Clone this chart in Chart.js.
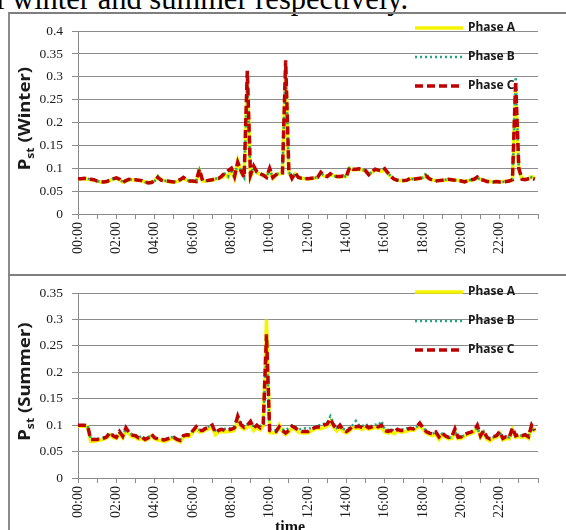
<!DOCTYPE html>
<html lang="en">
<head>
<meta charset="UTF-8">
<title>Pst winter and summer</title>
<script src="https://cdn.jsdelivr.net/npm/chart.js"></script>
<style>
  body, html { margin:0; padding:0; width:566px; height:530px; overflow:hidden; background:#fff; position:relative; }
  .caption { position:absolute; left:-4px; top:-16px; font-family:'Liberation Serif','Times New Roman',serif; font-size:30.5px; line-height:30px; white-space:nowrap; color:#000; }
  .frame { position:absolute; left:8px; width:570px; border-top:2px solid #7f7f7f; border-left:2px solid #8a8a8a; }
  #frameTop { top:12px; height:260px; }
  #frameBottom { top:274px; height:260px; }
  .frame canvas { position:absolute; left:0; top:0; }
  .xtitle { position:absolute; left:275px; top:519px; font-family:'Liberation Serif','Times New Roman',serif; font-weight:bold; font-size:16px; line-height:16px; color:#111; }
</style>
</head>
<body>
<div class="caption">l winter and summer respectively.</div>
<div class="frame" id="frameTop"><canvas id="winter" width="556" height="259"></canvas></div>
<div class="frame" id="frameBottom"><canvas id="summer" width="556" height="254"></canvas></div>
<div class="xtitle">time</div>

<script>
// 10-minute samples, 00:00 .. 23:50 (one extra label closes the axis at 24:00)
const times = [];
for (let m = 0; m <= 24 * 60; m += 10) {
  times.push(String(Math.floor(m / 60)).padStart(2, '0') + ':' + String(m % 60).padStart(2, '0'));
}

// Winter, one row per hour
const winterA = [
  0.076, 0.077, 0.077, 0.076, 0.075, 0.074,
  0.072, 0.070, 0.070, 0.071, 0.073, 0.076,
  0.078, 0.075, 0.070, 0.072, 0.075, 0.075,
  0.074, 0.074, 0.072, 0.070, 0.069, 0.070,
  0.073, 0.082, 0.075, 0.073, 0.071, 0.070,
  0.070, 0.071, 0.074, 0.078, 0.074, 0.072,
  0.071, 0.071, 0.094, 0.072, 0.072, 0.073,
  0.074, 0.076, 0.078, 0.080, 0.086, 0.080,
  0.096, 0.078, 0.116, 0.090, 0.082, 0.300,
  0.082, 0.100, 0.090, 0.087, 0.084, 0.082,
  0.096, 0.078, 0.085, 0.088, 0.089, 0.322,
  0.090, 0.079, 0.088, 0.080, 0.078, 0.077,
  0.077, 0.077, 0.078, 0.080, 0.089, 0.083,
  0.082, 0.086, 0.084, 0.082, 0.081, 0.082,
  0.082, 0.099, 0.097, 0.097, 0.098, 0.096,
  0.094, 0.087, 0.091, 0.097, 0.096, 0.093,
  0.097, 0.089, 0.081, 0.076, 0.074, 0.073,
  0.072, 0.074, 0.077, 0.076, 0.076, 0.078,
  0.079, 0.084, 0.077, 0.074, 0.073, 0.073,
  0.073, 0.074, 0.075, 0.075, 0.074, 0.074,
  0.072, 0.071, 0.073, 0.074, 0.076, 0.079,
  0.076, 0.074, 0.072, 0.071, 0.070, 0.071,
  0.070, 0.071, 0.071, 0.072, 0.074, 0.270,
  0.095, 0.077, 0.076, 0.077, 0.082, 0.078
];
const winterB = [
  0.077, 0.077, 0.078, 0.077, 0.076, 0.075,
  0.072, 0.071, 0.070, 0.071, 0.074, 0.077,
  0.079, 0.076, 0.070, 0.073, 0.076, 0.075,
  0.075, 0.074, 0.073, 0.070, 0.068, 0.069,
  0.072, 0.083, 0.074, 0.073, 0.072, 0.071,
  0.070, 0.072, 0.075, 0.080, 0.075, 0.072,
  0.072, 0.071, 0.096, 0.073, 0.072, 0.074,
  0.075, 0.077, 0.078, 0.082, 0.088, 0.082,
  0.098, 0.080, 0.114, 0.093, 0.080, 0.295,
  0.084, 0.104, 0.091, 0.088, 0.085, 0.080,
  0.098, 0.080, 0.086, 0.090, 0.090, 0.330,
  0.093, 0.078, 0.090, 0.080, 0.078, 0.078,
  0.077, 0.078, 0.079, 0.080, 0.090, 0.084,
  0.082, 0.088, 0.083, 0.082, 0.082, 0.083,
  0.082, 0.101, 0.098, 0.098, 0.099, 0.097,
  0.095, 0.086, 0.092, 0.098, 0.096, 0.094,
  0.100, 0.090, 0.082, 0.076, 0.074, 0.073,
  0.073, 0.074, 0.078, 0.076, 0.077, 0.078,
  0.080, 0.090, 0.077, 0.074, 0.072, 0.073,
  0.074, 0.075, 0.076, 0.075, 0.074, 0.073,
  0.072, 0.070, 0.073, 0.075, 0.076, 0.080,
  0.075, 0.074, 0.071, 0.070, 0.070, 0.071,
  0.070, 0.070, 0.071, 0.072, 0.075, 0.300,
  0.098, 0.076, 0.075, 0.077, 0.080, 0.076
];
const winterC = [
  0.077, 0.077, 0.078, 0.077, 0.076, 0.075,
  0.072, 0.071, 0.070, 0.071, 0.074, 0.077,
  0.079, 0.076, 0.069, 0.073, 0.076, 0.075,
  0.075, 0.074, 0.073, 0.070, 0.068, 0.069,
  0.072, 0.080, 0.074, 0.073, 0.072, 0.071,
  0.070, 0.072, 0.075, 0.080, 0.075, 0.072,
  0.072, 0.071, 0.098, 0.073, 0.072, 0.074,
  0.075, 0.077, 0.078, 0.083, 0.090, 0.095,
  0.100, 0.082, 0.113, 0.095, 0.080, 0.313,
  0.085, 0.105, 0.092, 0.088, 0.085, 0.080,
  0.100, 0.080, 0.086, 0.090, 0.090, 0.336,
  0.095, 0.078, 0.090, 0.080, 0.078, 0.078,
  0.077, 0.078, 0.079, 0.080, 0.091, 0.084,
  0.082, 0.088, 0.083, 0.082, 0.082, 0.083,
  0.082, 0.102, 0.098, 0.098, 0.099, 0.097,
  0.095, 0.086, 0.092, 0.098, 0.096, 0.094,
  0.099, 0.090, 0.082, 0.076, 0.074, 0.073,
  0.073, 0.074, 0.078, 0.076, 0.077, 0.078,
  0.080, 0.083, 0.077, 0.074, 0.072, 0.073,
  0.074, 0.075, 0.076, 0.075, 0.074, 0.073,
  0.072, 0.070, 0.073, 0.075, 0.076, 0.081,
  0.075, 0.074, 0.071, 0.070, 0.070, 0.071,
  0.070, 0.070, 0.071, 0.072, 0.075, 0.290,
  0.100, 0.076, 0.075, 0.077, 0.078, 0.076
];

// Summer, one row per hour
const summerA = [
  0.098, 0.098, 0.098, 0.097, 0.069, 0.069,
  0.071, 0.072, 0.073, 0.076, 0.082, 0.077,
  0.075, 0.084, 0.076, 0.090, 0.083, 0.078,
  0.077, 0.073, 0.075, 0.071, 0.074, 0.080,
  0.074, 0.072, 0.071, 0.069, 0.071, 0.074,
  0.075, 0.071, 0.068, 0.077, 0.079, 0.079,
  0.087, 0.093, 0.087, 0.088, 0.091, 0.093,
  0.096, 0.082, 0.087, 0.088, 0.087, 0.088,
  0.088, 0.091, 0.110, 0.096, 0.092, 0.096,
  0.102, 0.090, 0.096, 0.091, 0.099, 0.300,
  0.086, 0.085, 0.086, 0.100, 0.088, 0.082,
  0.087, 0.094, 0.092, 0.087, 0.085, 0.085,
  0.085, 0.089, 0.092, 0.094, 0.093, 0.096,
  0.098, 0.107, 0.096, 0.089, 0.097, 0.088,
  0.085, 0.089, 0.096, 0.094, 0.095, 0.092,
  0.096, 0.092, 0.094, 0.096, 0.094, 0.097,
  0.087, 0.085, 0.087, 0.084, 0.089, 0.087,
  0.087, 0.089, 0.091, 0.090, 0.094, 0.099,
  0.092, 0.085, 0.082, 0.080, 0.083, 0.073,
  0.081, 0.077, 0.074, 0.075, 0.088, 0.074,
  0.075, 0.079, 0.082, 0.084, 0.087, 0.096,
  0.077, 0.086, 0.073, 0.070, 0.075, 0.077,
  0.085, 0.072, 0.075, 0.074, 0.091, 0.077,
  0.079, 0.077, 0.079, 0.075, 0.096, 0.087
];
const summerB = [
  0.100, 0.100, 0.100, 0.099, 0.074, 0.074,
  0.074, 0.075, 0.077, 0.080, 0.085, 0.081,
  0.078, 0.086, 0.080, 0.093, 0.087, 0.082,
  0.081, 0.077, 0.079, 0.075, 0.077, 0.082,
  0.077, 0.075, 0.074, 0.073, 0.075, 0.077,
  0.078, 0.074, 0.072, 0.081, 0.083, 0.083,
  0.091, 0.096, 0.091, 0.092, 0.095, 0.098,
  0.100, 0.090, 0.092, 0.094, 0.093, 0.094,
  0.094, 0.098, 0.120, 0.102, 0.098, 0.101,
  0.108, 0.097, 0.101, 0.097, 0.104, 0.245,
  0.092, 0.090, 0.090, 0.096, 0.092, 0.090,
  0.095, 0.100, 0.097, 0.093, 0.092, 0.094,
  0.093, 0.095, 0.097, 0.100, 0.100, 0.103,
  0.104, 0.117, 0.103, 0.095, 0.101, 0.093,
  0.092, 0.095, 0.100, 0.108, 0.100, 0.098,
  0.103, 0.097, 0.099, 0.101, 0.100, 0.108,
  0.093, 0.091, 0.092, 0.090, 0.093, 0.092,
  0.092, 0.094, 0.095, 0.094, 0.097, 0.100,
  0.096, 0.090, 0.086, 0.084, 0.086, 0.080,
  0.084, 0.079, 0.076, 0.077, 0.088, 0.077,
  0.078, 0.081, 0.084, 0.086, 0.089, 0.095,
  0.080, 0.088, 0.076, 0.073, 0.077, 0.079,
  0.086, 0.076, 0.078, 0.077, 0.090, 0.080,
  0.081, 0.080, 0.081, 0.078, 0.095, 0.088
];
const summerC = [
  0.100, 0.100, 0.100, 0.099, 0.073, 0.073,
  0.073, 0.074, 0.075, 0.078, 0.086, 0.080,
  0.077, 0.088, 0.079, 0.095, 0.086, 0.081,
  0.080, 0.076, 0.078, 0.073, 0.076, 0.083,
  0.076, 0.074, 0.073, 0.072, 0.074, 0.076,
  0.077, 0.073, 0.071, 0.080, 0.082, 0.081,
  0.090, 0.097, 0.090, 0.090, 0.094, 0.096,
  0.100, 0.086, 0.090, 0.092, 0.090, 0.091,
  0.092, 0.095, 0.117, 0.101, 0.096, 0.100,
  0.107, 0.095, 0.100, 0.095, 0.103, 0.272,
  0.090, 0.088, 0.088, 0.097, 0.090, 0.085,
  0.090, 0.098, 0.095, 0.090, 0.088, 0.088,
  0.088, 0.092, 0.095, 0.097, 0.096, 0.100,
  0.102, 0.112, 0.100, 0.092, 0.100, 0.091,
  0.088, 0.092, 0.099, 0.097, 0.098, 0.095,
  0.099, 0.095, 0.097, 0.099, 0.097, 0.100,
  0.090, 0.088, 0.090, 0.087, 0.092, 0.090,
  0.090, 0.092, 0.094, 0.093, 0.097, 0.104,
  0.095, 0.088, 0.085, 0.083, 0.087, 0.078,
  0.085, 0.080, 0.077, 0.078, 0.093, 0.077,
  0.078, 0.082, 0.085, 0.087, 0.090, 0.100,
  0.080, 0.090, 0.077, 0.074, 0.078, 0.080,
  0.088, 0.075, 0.078, 0.077, 0.095, 0.080,
  0.082, 0.080, 0.082, 0.078, 0.100, 0.090
];

const seriesNames = ['Phase A', 'Phase B', 'Phase C'];

const GRID = '#8c8c8c';
const Y_FONT = { family: "'Liberation Serif', 'Times New Roman', serif", size: 13.5 };
const X_FONT = { family: "'Liberation Serif', 'Times New Roman', serif", size: 14 };

// draws the P_st axis title and the in-plot legend
const overlay = {
  id: 'overlay',
  afterDraw(chart, args, opts) {
    const ctx = chart.ctx, area = chart.chartArea;
    ctx.save();
    ctx.translate(opts.titleX, (area.top + area.bottom) / 2 - 4);
    ctx.rotate(-Math.PI / 2);
    ctx.scale(1.2, 1);
    const big = "bold 15.5px 'Noto Sans', sans-serif", small = "bold 10px 'Noto Sans', sans-serif";
    ctx.font = big;
    const wP = ctx.measureText('P').width, wRest = ctx.measureText(opts.title).width;
    ctx.font = small;
    const wSub = ctx.measureText('st').width;
    let x = -(wP + wSub + wRest) / 2;
    ctx.fillStyle = '#1a1a1a';
    ctx.textBaseline = 'middle';
    ctx.font = big; ctx.fillText('P', x, 0); x += wP;
    ctx.font = small; ctx.fillText('st', x, 5); x += wSub;
    ctx.font = big; ctx.fillText(opts.title, x, 0);
    ctx.restore();

    ctx.save();
    chart.data.datasets.forEach((ds, k) => {
      const y = opts.legendTop + k * 29;
      ctx.beginPath();
      ctx.strokeStyle = ds.borderColor;
      ctx.lineWidth = ds.borderWidth;
      ctx.setLineDash(ds.borderDash || []);
      ctx.moveTo(405, y);
      ctx.lineTo(453, y);
      ctx.stroke();
      ctx.setLineDash([]);
      ctx.fillStyle = '#1a1a1a';
      ctx.font = "bold 12px 'Noto Sans', sans-serif";
      ctx.textBaseline = 'middle';
      ctx.fillText(ds.label, 458, y);
    });
    ctx.restore();
  }
};

function makeChart(id, title, a, b, c, yMax, padTop, xHeight, legendTop) {
  return new Chart(document.getElementById(id), {
    type: 'line',
    data: {
      labels: times,
      datasets: [
        { label: seriesNames[0], data: a, borderColor: '#f5f500', borderWidth: 3.5, order: 2 },
        { label: seriesNames[1], data: b, borderColor: '#23a67e', borderWidth: 2.5, borderDash: [2, 3], order: 1 },
        { label: seriesNames[2], data: c, borderColor: '#c00000', borderWidth: 3.5, borderDash: [8, 4], order: 0 }
      ]
    },
    options: {
      responsive: false,
      animation: false,
      elements: { point: { radius: 0 }, line: { tension: 0 } },
      layout: { padding: { top: padTop, right: 28, left: 0, bottom: 0 } },
      plugins: {
        legend: { display: false },
        tooltip: { enabled: false },
        overlay: { title: ' (' + title + ')', titleX: 16, legendTop: legendTop }
      },
      scales: {
        x: {
          afterFit: s => { s.height = xHeight; },
          grid: {
            drawOnChartArea: false,
            tickLength: 5,
            color: ctx => (ctx.index % 6 === 0 ? GRID : 'rgba(0,0,0,0)')
          },
          border: { color: GRID },
          ticks: {
            autoSkip: false,
            maxRotation: 90,
            minRotation: 90,
            padding: 3,
            color: '#1a1a1a',
            font: X_FONT,
            callback: (v, i) => (i % 12 === 0 && i < 144 ? times[i] : '')
          }
        },
        y: {
          min: 0,
          max: yMax,
          afterFit: s => { s.width = 68; },
          grid: { color: GRID, tickLength: 6 },
          border: { color: GRID },
          ticks: {
            stepSize: 0.05,
            padding: 9,
            color: '#1a1a1a',
            font: Y_FONT,
            callback: v => String(Number(v.toFixed(2)))
          }
        }
      }
    },
    plugins: [overlay]
  });
}

makeChart('winter', 'Winter', winterA, winterB, winterC, 0.4, 16, 59, 14);
makeChart('summer', 'Summer', summerA, summerB, summerC, 0.35, 17, 52, 16);
</script>
</body>
</html>
